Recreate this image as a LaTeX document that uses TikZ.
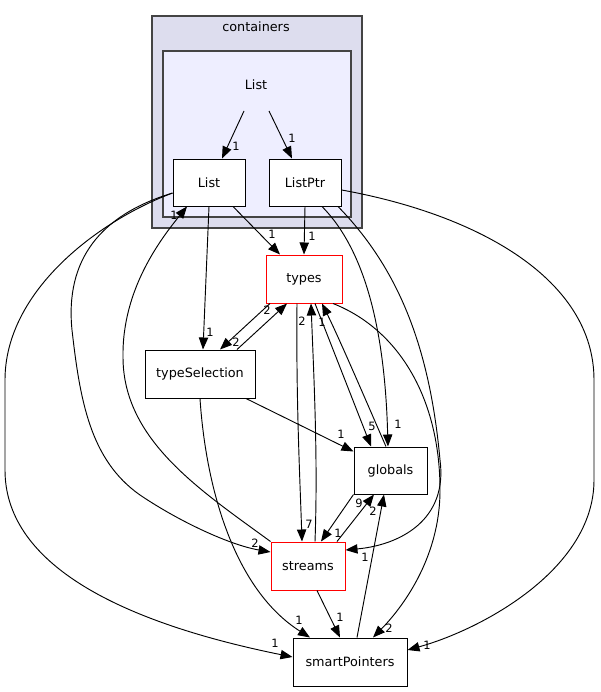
\documentclass[tikz,border=0pt]{standalone}
\usepackage{fontspec}
\setmainfont{DejaVu Sans}
\usetikzlibrary{arrows.meta}
\definecolor{clA}{HTML}{DDDDEE}
\definecolor{clB}{HTML}{EEEEFF}
\definecolor{clBorder}{HTML}{444444}
\begin{document}
\begin{tikzpicture}[x=0.75pt,y=-0.75pt,
  box/.style={draw=black, line width=0.75pt, fill=white, inner sep=0pt, font=\fontsize{9.6}{11}\selectfont},
  redbox/.style={box, draw=red},
  edge/.style={draw=black, line width=0.7pt, -{Triangle[length=9pt,width=7pt]}},
  lbl/.style={font=\fontsize{8.6}{10}\selectfont, inner sep=0pt},
  cl/.style={fill=#1, draw=clBorder, line width=1pt},
  cltext/.style={font=\fontsize{9.6}{11}\selectfont, inner sep=0pt}
  ]
\useasboundingbox (0,0) rectangle (600,692);
% clusters
\filldraw[cl=clA] (152,16) rectangle (362,228);
\node[cltext] (contlbl) at (256,27) {containers};
\filldraw[cl=clB] (163,51) rectangle (351,217);
\node[cltext] (listlbl) at (256,85) {List};
\coordinate (lsA) at (244,111);
\coordinate (lsB) at (269,111);
% nodes
\node[box, minimum width=54pt, minimum height=35.25pt] (List) at (209,182.5) {List};
\node[box, minimum width=54pt, minimum height=35.25pt] (ListPtr) at (305,182.5) {ListPtr};
\node[redbox, minimum width=57pt, minimum height=36pt] (types) at (304,279) {types};
\node[box, minimum width=82.5pt, minimum height=36pt] (tsel) at (200,374) {typeSelection};
\node[box, minimum width=54.75pt, minimum height=35.25pt] (globals) at (390.5,470.5) {globals};
\node[redbox, minimum width=55.5pt, minimum height=36pt] (streams) at (308,566) {streams};
\node[box, minimum width=85.5pt, minimum height=36pt] (smart) at (350,662) {smartPointers};
% edges
\draw[edge] (lsA) -- ([xshift=9.75pt]List.north);
\draw[edge] (lsB) -- ([xshift=-9.75pt]ListPtr.north);
\draw[edge] ([xshift=18pt]List.south) -- ([xshift=-18pt]types.north);
\draw[edge] (ListPtr.south) -- (types.north);
\draw[edge] (List.south) -- ([xshift=2.25pt]tsel.north);
\draw[edge] ([xshift=27.75pt]tsel.north) -- ([xshift=-12.75pt]types.south);
\draw[edge] ([xshift=-25.5pt]types.south) -- ([xshift=15pt]tsel.north);
\draw[edge] ([xshift=34.5pt]tsel.south) -- ([yshift=-3.75pt]globals.north west);
\draw[edge] (tsel.south) .. controls (206,490) and (235,590) .. ([xshift=-30pt]smart.north);
\draw[edge] ([xshift=-5.25pt]types.south) .. controls (296,400) and (300,480) .. ([xshift=-4.5pt]streams.north);
\draw[edge] ([xshift=5.25pt]streams.north) .. controls (318,460) and (314,380) .. ([xshift=5.25pt]types.south);
\draw[edge] ([xshift=8.25pt]types.south) -- ([xshift=-14.6pt]globals.north);
\draw[edge] ([xshift=-3.4pt]globals.north) .. controls (370,410) and (340,340) .. ([xshift=13.5pt]types.south);
\draw[edge] ([xshift=21.75pt]types.south) .. controls (400,330) and (440,400) .. (440,490) .. controls (440,560) and (400,610) .. ([xshift=17.25pt]smart.north);
\draw[edge] ([xshift=12.75pt]ListPtr.south) .. controls (365,250) and (385,330) .. ([xshift=-1.9pt]globals.north);
\draw[edge] ([xshift=24.75pt]ListPtr.south) .. controls (400,270) and (430,350) .. (440,460) .. controls (448,520) and (400,545) .. ([yshift=12pt]streams.east);
\draw[edge] ([yshift=-5.6pt]ListPtr.east) .. controls (480,215) and (594,280) .. (594,380) -- (594,480) .. controls (594,570) and (480,630) .. ([yshift=9pt]smart.east);
\draw[edge] (globals.south west) -- ([xshift=9.75pt]streams.north);
\draw[edge] ([xshift=21.75pt]streams.north) -- ([xshift=-12.4pt]globals.south);
\draw[edge] ([xshift=5.25pt]smart.north) -- ([xshift=-4.9pt]globals.south);
\draw[edge] ([xshift=6.75pt]streams.south) -- ([xshift=-7.5pt]smart.north);
\draw[edge] (streams.north west) .. controls (200,490) and (123,440) .. (123,357) .. controls (122,290) and (160,240) .. ([xshift=-16.5pt]List.south);
\draw[edge] ([yshift=-7.9pt]List.west) .. controls (100,215) and (65,260) .. (72,330) .. controls (80,400) and (90,460) .. (140,495) .. controls (180,522) and (230,545) .. ([yshift=10.5pt]streams.west);
\draw[edge] ([yshift=-7.9pt]List.west) .. controls (100,220) and (5,290) .. (5,380) -- (5,470) .. controls (5,560) and (110,620) .. ([yshift=3.75pt]smart.west);
% labels
\node[lbl] (t1) at (236,146) {1};
\node[lbl] (t2) at (292,138) {1};
\node[lbl] (t3) at (272,234) {1};
\node[lbl] (t4) at (312,236) {1};
\node[lbl] (t5) at (210,332) {1};
\node[lbl] (t6) at (267,310) {2};
\node[lbl] (t7) at (236,342) {2};
\node[lbl] (t8) at (341,434) {1};
\node[lbl] (t9) at (299,620) {1};
\node[lbl] (t10) at (309,524) {7};
\node[lbl] (t11) at (302,321) {2};
\node[lbl] (t12) at (372,426) {5};
\node[lbl] (t13) at (322,322) {1};
\node[lbl] (t14) at (389,628) {2};
\node[lbl] (t15) at (398,424) {1};
\node[lbl] (t16) at (365,557) {1};
\node[lbl] (t17) at (427,645) {1};
\node[lbl] (t18) at (338,533) {1};
\node[lbl] (t19) at (359,503) {9};
\node[lbl] (t20) at (373,511) {2};
\node[lbl] (t21) at (340,617) {1};
\node[lbl] (t22) at (174,215) {1};
\node[lbl] (t23) at (255,543) {2};
\node[lbl] (t24) at (275,643) {1};
\end{tikzpicture}
\end{document}
